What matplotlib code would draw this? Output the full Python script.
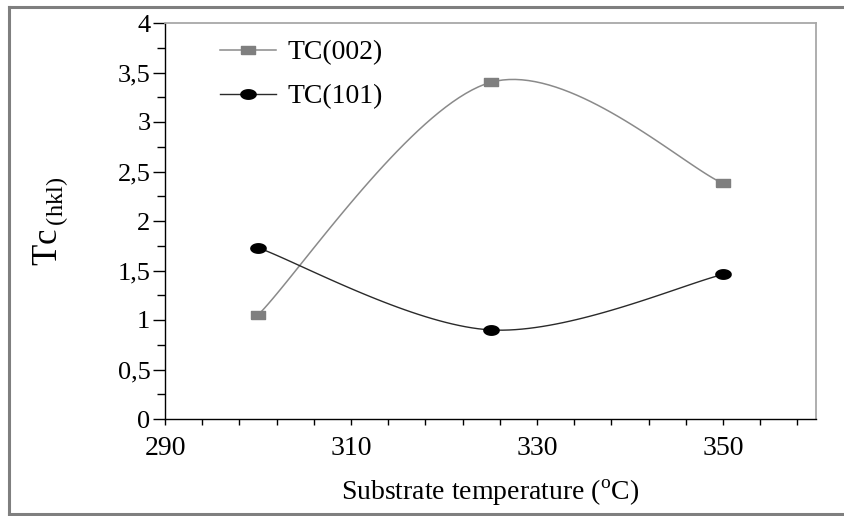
import matplotlib
matplotlib.use("Agg")
import matplotlib.pyplot as plt
import numpy as np
from matplotlib.lines import Line2D
from matplotlib.ticker import FuncFormatter, MultipleLocator, FixedLocator

plt.rcParams['font.family'] = ['Liberation Serif', 'DejaVu Serif']
plt.rcParams['mathtext.fontset'] = 'custom'
plt.rcParams['mathtext.rm'] = 'Liberation Serif'

# data
temps = [300, 325, 350]
tc002 = [1.05, 3.40, 2.38]
tc101 = [1.73, 0.90, 1.46]
labels = ['TC(002)', 'TC(101)']
x_labels = [290, 310, 330, 350]


def smooth(xs, ys, n=40):
    # excel-like smoothed line: bezier through the points
    p = np.column_stack([xs, ys]).astype(float)
    ext = np.vstack([p[0], p, p[-1]])
    out = []
    t = np.linspace(0, 1, n)[:, None]
    for i in range(len(p) - 1):
        p0, p3 = p[i], p[i + 1]
        c1 = p0 + (ext[i + 2] - ext[i]) / 6
        c2 = p3 - (ext[i + 3] - ext[i + 1]) / 6
        seg = ((1 - t) ** 3) * p0 + 3 * ((1 - t) ** 2) * t * c1 + 3 * (1 - t) * t ** 2 * c2 + t ** 3 * p3
        out.append(seg if i == 0 else seg[1:])
    out = np.vstack(out)
    return out[:, 0], out[:, 1]


# marker shapes (the picture is stretched sideways)
rect = [(-1, -0.55), (1, -0.55), (1, 0.55), (-1, 0.55), (-1, -0.55)]
th = np.linspace(0, 2 * np.pi, 40)
ellipse = list(zip(np.cos(th), 0.62 * np.sin(th)))

fig = plt.figure(figsize=(8.45, 5.16), dpi=100)
ax = fig.add_axes([165 / 845, 1 - 419 / 516, 651 / 845, 396 / 516])

sx, sy = smooth(temps, tc002)
ax.plot(sx, sy, color='#8a8a8a', lw=1.1)
sx, sy = smooth(temps, tc101)
ax.plot(sx, sy, color='#2a2a2a', lw=1.0)
ax.plot(temps, tc002, ls='none', marker=rect, ms=10.5, color='#7f7f7f')
ax.plot(temps, tc101, ls='none', marker=ellipse, ms=11, color='black')

ax.set_xlim(290, 360)
ax.set_ylim(0, 4)

ax.xaxis.set_major_locator(FixedLocator(x_labels))
ax.xaxis.set_minor_locator(FixedLocator([v for v in range(290, 360, 4) if v not in x_labels]))
ax.yaxis.set_major_locator(MultipleLocator(0.5))
ax.yaxis.set_minor_locator(MultipleLocator(0.25))
ax.yaxis.set_major_formatter(FuncFormatter(lambda v, p: ('%g' % v).replace('.', ',')))

ax.tick_params(axis='x', which='both', direction='out', length=4.5, width=1, color='black',
               labelsize=20, pad=8)
ax.tick_params(axis='y', which='major', direction='out', length=8.5, width=1, color='black',
               labelsize=19, pad=2)
ax.tick_params(axis='y', which='minor', direction='out', length=5.5, width=1, color='black')

for s in ['left', 'bottom']:
    ax.spines[s].set_color('black')
    ax.spines[s].set_linewidth(1.0)
for s in ['top', 'right']:
    ax.spines[s].set_color('#a8a8a8')
    ax.spines[s].set_linewidth(1.3)

ax.set_xlabel(r'Substrate temperature ($^{\mathrm{o}}$C)', fontsize=20, va='center')
ax.xaxis.set_label_coords(0.5, -0.186)
ax.set_ylabel(r'Tc$_{\,\mathrm{(hkl)}}$', fontsize=25, va='center', ha='center')
ax.yaxis.set_label_coords(-0.176, 0.5)

handles = [
    Line2D([], [], color='#8a8a8a', lw=1.1, marker=rect, ms=10.5, mfc='#7f7f7f', mec='#7f7f7f'),
    Line2D([], [], color='#2a2a2a', lw=1.0, marker=ellipse, ms=11, mfc='black', mec='black'),
]
ax.legend(handles, labels, loc='upper left', bbox_to_anchor=(0.0845, 0.957), frameon=False,
          fontsize=20, handlelength=2.0, handletextpad=0.42, labelspacing=0.67,
          borderpad=0, borderaxespad=0)

# grey frame round the picture (no right side)
fc = '#7f7f7f'
fig.add_artist(Line2D([9.5 / 845, 1], [1 - 6.5 / 516] * 2, color=fc, lw=2.2, transform=fig.transFigure))
fig.add_artist(Line2D([9.5 / 845] * 2, [1 - 6.5 / 516, 1 - 513.5 / 516], color=fc, lw=2.2,
                      transform=fig.transFigure))
fig.add_artist(Line2D([9.5 / 845, 1], [1 - 513.5 / 516] * 2, color=fc, lw=2.2, transform=fig.transFigure))

fig.savefig('out.png', dpi=100)
